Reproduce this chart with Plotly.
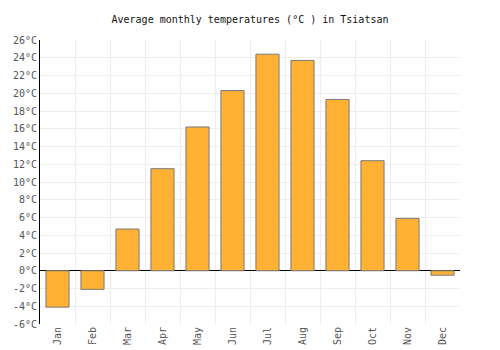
import plotly.graph_objects as go

months = ["Jan", "Feb", "Mar", "Apr", "May", "Jun", "Jul", "Aug", "Sep", "Oct", "Nov", "Dec"]
temps = [-4.1, -2.1, 4.7, 11.5, 16.2, 20.3, 24.4, 23.7, 19.3, 12.4, 5.9, -0.5]
y_ticks = list(range(-6, 27, 2))
y_labels = [f"{v}°C" for v in y_ticks]

font = "DejaVu Sans Mono"

fig = go.Figure(go.Bar(
    x=months, y=temps, width=0.66,
    marker=dict(color="#FFB133", line=dict(color="#7a7a7a", width=1)),
))

fig.update_layout(
    width=500, height=350,
    margin=dict(l=40, r=40, t=40, b=26),
    paper_bgcolor="white", plot_bgcolor="white",
    title=dict(text="Average monthly temperatures (°C ) in Tsiatsan", x=0.5, xanchor="center",
               y=0.945, yanchor="middle", font=dict(family=font, size=10, color="#111")),
    font=dict(family=font, size=10, color="#555"),
    showlegend=False,
)
fig.update_xaxes(
    type="category", tickangle=-90, tickson="boundaries", showgrid=True, gridcolor="#eeeeee",
    gridwidth=1, ticks="", automargin=False, tickfont=dict(family=font, size=10, color="#555"),
    range=[-0.5, 11.5],
)
fig.update_yaxes(
    range=[-6, 26], tickvals=y_ticks, ticktext=y_labels, showgrid=True, gridcolor="#eeeeee",
    showline=True, linecolor="black", linewidth=1, zeroline=True, zerolinecolor="black",
    zerolinewidth=1, automargin=False, ticks="", tickfont=dict(family=font, size=10, color="#555"),
)

fig.write_html("out.html")
